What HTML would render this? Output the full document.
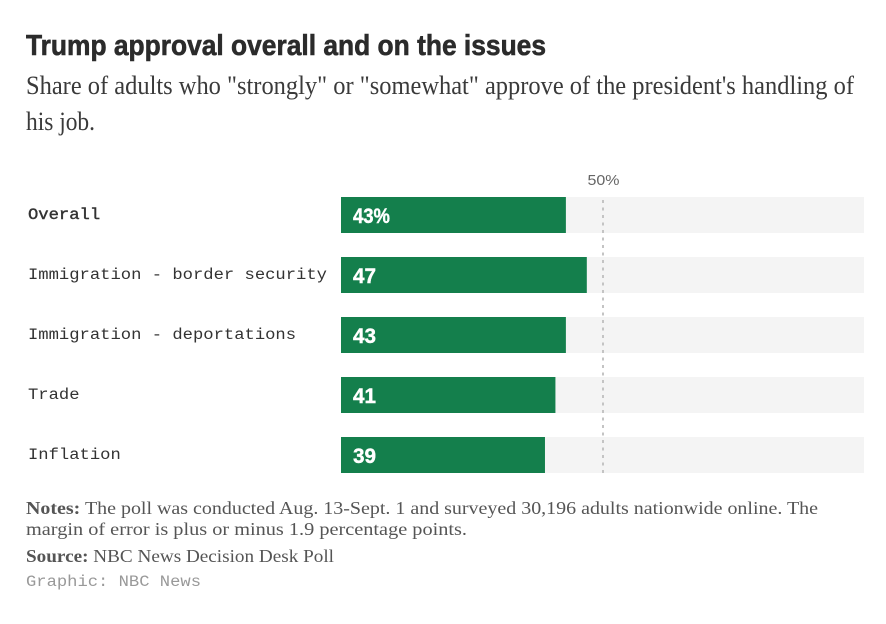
<!DOCTYPE html>
<html lang="en">
<head>
<meta charset="utf-8">
<title>Trump approval overall and on the issues</title>
<style>
html,body{margin:0;padding:0;background:#fff;width:886px;height:624px;overflow:hidden}
svg{display:block}
.title{font:700 29px "Liberation Sans",sans-serif;fill:#2b2b2b;stroke:#2b2b2b;stroke-width:.6px}
.sub{font:400 26px "Liberation Serif",serif;fill:#3a3a3a}
.note{font:400 18px "Liberation Serif",serif;fill:#555}
.credit{font:400 15.5px "Liberation Mono",monospace;fill:#999}
.cat{font:400 15.5px "Liberation Mono",monospace;fill:#333}
.val{font:700 21px "Liberation Sans",sans-serif;fill:#fff;stroke:#fff;stroke-width:.4px}
.ref{font:400 15px "Liberation Sans",sans-serif;fill:#666}
</style>
</head>
<body>
<svg id="chart" width="886" height="624" viewBox="0 0 886 624" xmlns="http://www.w3.org/2000/svg">
  <text class="title" x="26" y="55" textLength="520" lengthAdjust="spacingAndGlyphs">Trump approval overall and on the issues</text>
  <text class="sub" x="26" y="94" textLength="828" lengthAdjust="spacingAndGlyphs">Share of adults who "strongly" or "somewhat" approve of the president's handling of</text>
  <text class="sub" x="26" y="130" textLength="69" lengthAdjust="spacingAndGlyphs">his job.</text>
  <g id="plot"></g>
  <text class="note" x="26" y="514" textLength="792" lengthAdjust="spacingAndGlyphs"><tspan font-weight="700">Notes:</tspan> The poll was conducted Aug. 13-Sept. 1 and surveyed 30,196 adults nationwide online. The</text>
  <text class="note" x="26" y="535" textLength="441" lengthAdjust="spacingAndGlyphs">margin of error is plus or minus 1.9 percentage points.</text>
  <text class="note" x="26" y="562" textLength="308" lengthAdjust="spacingAndGlyphs"><tspan font-weight="700">Source:</tspan> NBC News Decision Desk Poll</text>
  <text class="credit" x="26" y="586" textLength="175" lengthAdjust="spacingAndGlyphs">Graphic: NBC News</text>
</svg>
<script>
const categories = ["Overall", "Immigration - border security", "Immigration - deportations", "Trade", "Inflation"];
const approvalValues = [43, 47, 43, 41, 39];
const valueLabels = ["43%", "47", "43", "41", "39"];
const axisDomain = [0, 100];
const referenceValue = 50;
const referenceLabel = "50%";

const NS = "http://www.w3.org/2000/svg";
const plot = document.getElementById("plot");
const plotLeft = 341, plotRight = 864, rowTop = 197, rowStep = 60, barHeight = 36;
function xScale(v) {
  return plotLeft + (v - axisDomain[0]) / (axisDomain[1] - axisDomain[0]) * (plotRight - plotLeft);
}
function yScale(i) {
  return rowTop + i * rowStep;
}
function make(tag, attrs, text) {
  const el = document.createElementNS(NS, tag);
  for (const k in attrs) el.setAttribute(k, attrs[k]);
  if (text !== undefined) el.textContent = text;
  plot.appendChild(el);
  return el;
}
categories.forEach(function (cat, i) {
  const y = yScale(i);
  const track = make("rect", {x: xScale(axisDomain[0]), y: y, width: xScale(axisDomain[1]) - xScale(axisDomain[0]), height: barHeight, fill: "#f4f4f4"});
  
  
  const bar = make("rect", {x: xScale(axisDomain[0]), y: y, width: xScale(approvalValues[i]) - xScale(axisDomain[0]), height: barHeight, fill: "#147f4c"});
  
  
  const label = make("text", {x: 28, y: y + 22, "class": "cat", textLength: cat.length * 10.31, lengthAdjust: "spacingAndGlyphs"}, cat);
  
  
  if (i === 0) {
    label.style.stroke = '#333';
    label.style.strokeWidth = '0.4px';
  }
  const val = make("text", {x: xScale(axisDomain[0]) + 12, y: y + 26, "class": "val", textLength: valueLabels[i].length > 2 ? 37 : 23, lengthAdjust: "spacingAndGlyphs"}, valueLabels[i]);
  
  
});
const refLine = make("line", {
  x1: xScale(referenceValue) + 0.5, x2: xScale(referenceValue) + 0.5,
  y1: yScale(0) + 3, y2: yScale(categories.length - 1) + barHeight,
  stroke: "#c4c4c4", "stroke-width": 2, "stroke-dasharray": "3 4.5"
});


const refText = make("text", {x: xScale(referenceValue) + 1, y: 185, "class": "ref", "text-anchor": "middle", textLength: 32, lengthAdjust: "spacingAndGlyphs"}, referenceLabel);


</script>
</body>
</html>
